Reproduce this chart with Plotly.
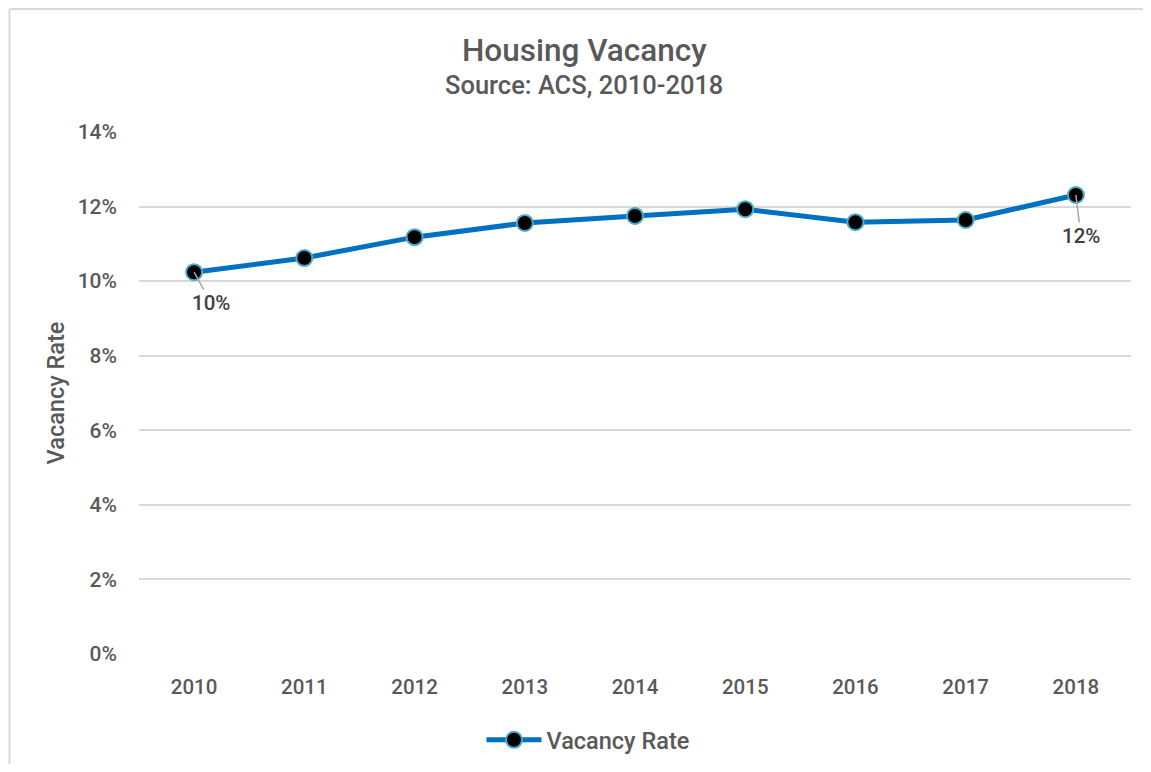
import plotly.graph_objects as go

years = ["2010", "2011", "2012", "2013", "2014", "2015", "2016", "2017", "2018"]
vacancy = [0.1024, 0.1062, 0.1118, 0.1156, 0.1175, 0.1193, 0.1158, 0.1164, 0.1231]
tick_vals = [0, 0.02, 0.04, 0.06, 0.08, 0.10, 0.12, 0.14]
tick_text = ["0%", "2%", "4%", "6%", "8%", "10%", "12%", "14%"]

FONT = "Roboto"
GREY = "#595959"

# screen-pixel geometry of the plot area (page body has an 8px margin)
PL, PR, PT, PB = 139, 1131, 132, 654
PW, PH = PR - PL, PB - PT
W, H = 1135, 756


def px(x):
    return (x - PL) / PW


def py(y):
    return (PB - y) / PH


fig = go.Figure()
fig.add_trace(go.Scatter(
    x=years, y=vacancy, name="Vacancy Rate",
    mode="lines+markers",
    line=dict(color="#0070C0", width=5),
    marker=dict(size=16, color="black", line=dict(color="#4BACC6", width=2)),
))

# data labels with leader lines (first and last points)
for i, (ax, ay) in [(0, (17, 31)), (len(years) - 1, (5, 41))]:
    fig.add_annotation(
        x=i, y=vacancy[i], text=f"{vacancy[i]*100:.0f}%",
        showarrow=True, arrowhead=0, arrowwidth=1.5, arrowcolor="#A6A6A6",
        ax=ax, ay=ay, standoff=0,
        font=dict(family=FONT, size=20.5, color="#404040", weight=500),
    )

fig.add_annotation(text="Housing Vacancy", xref="paper", yref="paper",
                   x=px(584.5), y=py(50), showarrow=False, xanchor="center", yanchor="middle",
                   font=dict(family=FONT, size=31.5, color=GREY, weight=500))
fig.add_annotation(text="Source: ACS, 2010-2018", xref="paper", yref="paper",
                   x=px(584), y=py(85), showarrow=False, xanchor="center", yanchor="middle",
                   font=dict(family=FONT, size=25.5, color=GREY, weight=500))

# chart border (top and left edges visible)
fig.add_shape(type="line", xref="paper", yref="paper",
              x0=px(9.5), x1=px(1160), y0=py(9), y1=py(9),
              line=dict(color="#D9D9D9", width=2))
fig.add_shape(type="line", xref="paper", yref="paper",
              x0=px(9.5), x1=px(9.5), y0=py(9), y1=py(790),
              line=dict(color="#D9D9D9", width=2))

fig.update_layout(
    width=W, height=H,
    margin=dict(l=PL - 8, r=(W + 8) - PR, t=PT - 8, b=(H + 8) - PB, autoexpand=False),
    paper_bgcolor="white", plot_bgcolor="white",
    font=dict(family=FONT, color=GREY, size=18),
    showlegend=True,
    legend=dict(orientation="h", x=px(588), xanchor="center",
                yref="container", y=1 - (740 - 8) / H, yanchor="middle",
                font=dict(family=FONT, size=23.5, color=GREY, weight=500), itemwidth=55),
    xaxis=dict(type="category", range=[-0.5, 8.5], showgrid=False, zeroline=False, showline=False,
               ticks="", tickfont=dict(family=FONT, size=20.5, color=GREY, weight=500),
               ticklabelstandoff=18, automargin=False),
    yaxis=dict(range=[0, 0.14], tickvals=tick_vals, ticktext=tick_text,
               showgrid=True, gridcolor="#D9D9D9", gridwidth=1.5, zeroline=False, showline=False,
               tickfont=dict(family=FONT, size=21, color=GREY, weight=500), ticklabelstandoff=21,
               automargin=False,
               title=dict(text="Vacancy Rate", font=dict(family=FONT, size=23.5, color=GREY, weight=500),
                          standoff=6)),
)

fig.write_html("out.html")
